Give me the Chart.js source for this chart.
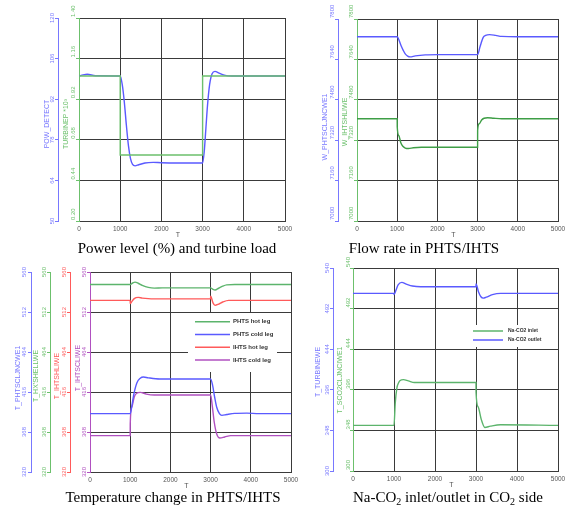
<!DOCTYPE html>
<html>
<head>
<meta charset="utf-8">
<script src="https://cdn.jsdelivr.net/npm/chart.js@4.4.1/dist/chart.umd.min.js"></script>
<style>
  body { margin: 0; background: #fff; width: 570px; height: 507px; position: relative; overflow: hidden; }
  .pane { position: absolute; left: 0; top: 0; width: 570px; height: 507px; }
  .cap { position: absolute; font-family: "Liberation Serif", "Times New Roman", serif; font-size: 15px; line-height: 17px;
         color: #000; white-space: nowrap; transform: translateX(-50%); }
  .cap sub { font-size: 10px; vertical-align: -3px; line-height: 0; }
</style>
</head>
<body>
<div class="pane"><canvas id="c1"></canvas></div>
<div class="pane"><canvas id="c2"></canvas></div>
<div class="pane"><canvas id="c3"></canvas></div>
<div class="pane"><canvas id="c4"></canvas></div>
<div class="cap" style="left:177px;top:240px">Power level (%) and turbine load</div>
<div class="cap" style="left:424px;top:240px">Flow rate in PHTS/IHTS</div>
<div class="cap" style="left:173px;top:489px">Temperature change in PHTS/IHTS</div>
<div class="cap" style="left:448px;top:489px">Na-CO<sub>2</sub> inlet/outlet in CO<sub>2</sub> side</div>
<script>
// ---- données ----
const tTicks = [0, 1000, 2000, 3000, 4000, 5000];

// Power level / turbine load
const powTicks = [50, 64, 78, 92, 106, 120];
const turbTicks = [0.20, 0.44, 0.68, 0.92, 1.16, 1.40];
const powT   = [0, 100, 200, 400, 1000, 1050, 1100, 1150, 1200, 1250, 1300, 1360, 1450, 1600, 1800, 2000, 3000, 3040, 3080, 3120, 3170, 3230, 3300, 3400, 3550, 3700, 5000];
const powVal = [100, 100.4, 100.6, 100.1, 100, 97, 91, 83, 76, 71.5, 69.5, 69, 69.4, 70, 70.2, 70.1, 70, 74, 82, 90, 97, 100.8, 101.6, 101, 100.2, 100, 100];
const turbT   = [0, 1000, 3000, 5000];
const turbVal = [1.057, 0.59, 1.057, 1.057];

// Flow rate
const flowTicks = [7000, 7160, 7320, 7480, 7640, 7800];
const phtsFlowT   = [0, 1000, 1050, 1100, 1150, 1200, 1260, 1320, 1450, 1700, 2000, 3000, 3060, 3140, 3200, 3300, 3450, 3600, 4000, 5000];
const phtsFlowVal = [7730, 7730, 7714, 7693, 7676, 7662, 7653, 7650, 7654, 7658, 7659, 7659, 7690, 7727, 7735, 7738, 7735, 7731, 7730, 7730];
const ihtsFlowT   = [0, 1000, 1001, 1040, 1090, 1140, 1200, 1280, 1400, 1600, 2000, 3000, 3001, 3040, 3100, 3160, 3250, 3400, 3600, 5000];
const ihtsFlowVal = [7405, 7405, 7372, 7338, 7310, 7296, 7289, 7287, 7290, 7292, 7292, 7292, 7360, 7385, 7400, 7407, 7409, 7407, 7405, 7405];

// Temperature PHTS/IHTS
const tempTicks = [320, 368, 416, 464, 512, 560];
const phtsHotT   = [0, 1000, 1060, 1120, 1200, 1300, 1450, 1600, 1800, 3000, 3050, 3110, 3200, 3300, 3400, 3600, 5000];
const phtsHotVal = [545, 545, 546.8, 547.8, 546.5, 544, 541.5, 540.6, 541, 541, 539.5, 538.4, 540.5, 543, 544.6, 545, 545];
const phtsColdT   = [0, 1000, 1040, 1080, 1165, 1250, 1330, 1450, 1740, 3000, 3050, 3100, 3150, 3220, 3280, 3400, 3600, 3900, 4200, 5000];
const phtsColdVal = [390, 390, 398.8, 410.8, 426.8, 432.5, 434, 433, 431.6, 431.6, 424, 410, 398, 390, 388, 389, 390.3, 390.6, 390, 390];
const ihtsHotT   = [0, 1000, 1001, 1040, 1100, 1200, 1300, 1450, 1600, 3000, 3001, 3060, 3110, 3200, 3300, 3450, 5000];
const ihtsHotVal = [526, 526, 522, 524.5, 528, 529.5, 528.7, 528, 527.8, 527.8, 531, 523, 520, 521.5, 524, 526, 526];
const ihtsColdT   = [0, 1000, 1001, 1040, 1100, 1160, 1250, 1400, 1600, 3000, 3040, 3090, 3150, 3230, 3350, 3500, 5000];
const ihtsColdVal = [363.6, 363.6, 378, 398, 410, 414.5, 415.6, 413.5, 412.4, 412.4, 400, 380, 366, 360.8, 362, 363.6, 363.6];

// Na-CO2
const co2Ticks = [300, 348, 396, 444, 492, 540];
const naOutT   = [0, 1000, 1001, 1050, 1100, 1190, 1300, 1450, 1650, 3000, 3001, 3060, 3120, 3175, 3250, 3400, 3600, 5000];
const naOutVal = [510, 510, 508.5, 514, 520, 523, 521, 518.7, 517.8, 517.8, 521, 512, 506, 504.4, 505.5, 508.5, 510, 510];
const naInT   = [0, 1000, 1030, 1070, 1110, 1150, 1230, 1350, 1500, 3000, 3001, 3050, 3130, 3215, 3350, 3600, 5000];
const naInVal = [354, 354, 380, 398, 404, 407, 408, 406.5, 404.6, 404.6, 393, 376, 360.7, 351.5, 353, 354.7, 354];

// ---- estilo ----
const gridCor = '#3a3a3a';
const azul = '#5a5aff', azulEixo = '#7878ff';
const verde = '#5cb46c', verdeEixo = '#6cc06c';
const verm = '#ff5a5a';
const roxo = '#b050c0';

const pts = (xs, ys) => xs.map((x, i) => ({ x: x, y: ys[i] }));

function eixoY(lista, cor, peso, interno, largura) {
  return {
    type: 'linear', position: 'left', weight: peso,
    min: lista[0], max: lista[lista.length - 1],
    afterBuildTicks: s => { s.ticks = lista.map(v => ({ value: v })); },
    afterFit: s => { s.width = largura; },
    ticks: { display: false },
    grid: { drawOnChartArea: interno, color: interno ? gridCor : cor, tickColor: cor, tickLength: 3, lineWidth: 1 },
    border: { display: true, color: cor, width: 1 }
  };
}

function eixoX() {
  return {
    type: 'linear', min: 0, max: 5000,
    afterBuildTicks: s => { s.ticks = tTicks.map(v => ({ value: v })); },
    afterFit: s => { s.height = 14; },
    grid: { color: c => (c.tick && c.tick.value === 0) ? 'rgba(0,0,0,0)' : gridCor, drawTicks: false },
    border: { display: true, color: gridCor },
    ticks: { color: '#555', font: { size: 6.5, family: 'Liberation Sans' }, padding: 4, maxRotation: 0, autoSkip: false,
             callback: v => String(v) }
  };
}

function serie(xs, ys, cor, extra) {
  return Object.assign({
    data: pts(xs, ys), borderColor: cor, borderWidth: 1.4, pointRadius: 0,
    cubicInterpolationMode: 'monotone', fill: false
  }, extra || {});
}

// desenha rótulos girados, títulos dos eixos, "T" e legenda
function textos(eixos, legenda) {
  return {
    id: 'textos',
    afterDraw(chart) {
      const ctx = chart.ctx;
      ctx.save();
      ctx.textBaseline = 'middle';
      eixos.forEach(a => {
        const sc = chart.scales[a.id];
        const x = sc.right;
        ctx.fillStyle = a.cor;
        ctx.font = '6px "Liberation Sans"';
        ctx.textAlign = a.acima ? 'left' : 'center';
        a.lista.forEach(v => {
          ctx.save();
          ctx.translate(x + a.lx, sc.getPixelForValue(v));
          ctx.rotate(-Math.PI / 2);
          ctx.fillText(a.fmt ? a.fmt(v) : String(v), a.acima ? 1 : 0, 0);
          ctx.restore();
        });
        ctx.font = '7px "Liberation Sans"';
        ctx.textAlign = 'center';
        ctx.save();
        ctx.translate(x + a.tx, a.ty);
        ctx.rotate(-Math.PI / 2);
        ctx.fillText(a.titulo, 0, 0);
        ctx.restore();
      });
      const xs = chart.scales.x;
      ctx.fillStyle = '#555';
      ctx.font = '7px "Liberation Sans"';
      ctx.textAlign = 'center';
      ctx.fillText('T', (xs.left + xs.right) / 2 - 4, xs.top + 14);
      if (legenda) {
        const L = legenda;
        ctx.fillStyle = '#fff';
        ctx.fillRect(L.box[0], L.box[1], L.box[2], L.box[3]);
        ctx.font = L.font;
        ctx.textAlign = 'left';
        L.itens.forEach((it, i) => {
          const y = L.y0 + i * L.dy;
          ctx.strokeStyle = it.cor;
          ctx.lineWidth = 1.5;
          ctx.beginPath();
          ctx.moveTo(L.x0, y);
          ctx.lineTo(L.x1, y);
          ctx.stroke();
          ctx.fillStyle = '#333';
          ctx.fillText(it.label, L.tx, y);
        });
      }
      ctx.restore();
    }
  };
}

function grafico(id, datasets, scales, padding, plugin) {
  return new Chart(document.getElementById(id), {
    type: 'line',
    data: { datasets: datasets },
    options: {
      responsive: true,
      maintainAspectRatio: false,
      animation: false,
      layout: { autoPadding: false, padding: padding },
      plugins: { legend: { display: false }, tooltip: { enabled: false } },
      scales: scales
    },
    plugins: [plugin]
  });
}

// Gráfico 1 - potência e carga da turbina
grafico('c1',
  [serie(turbT, turbVal, verdeEixo, { yAxisID: 'yG', stepped: true, cubicInterpolationMode: 'default' }),
   serie(powT, powVal, azul, { yAxisID: 'yB' })],
  { x: eixoX(), yG: eixoY(turbTicks, verdeEixo, 0, true, 21), yB: eixoY(powTicks, azulEixo, 1, false, 20) },
  { left: 38, top: 18, right: 285, bottom: 507 - 221 - 14 },
  textos([
    { id: 'yB', lista: powTicks, cor: azulEixo, lx: -6, tx: -11, ty: 124, titulo: 'POW_DETECT' },
    { id: 'yG', lista: turbTicks, cor: verdeEixo, lx: -6, tx: -13, ty: 124, titulo: 'TURBINEP *10³', acima: true, fmt: v => v.toFixed(2) }
  ])
);

// Gráfico 2 - vazão
grafico('c2',
  [serie(phtsFlowT, phtsFlowVal, azul, { yAxisID: 'yB' }),
   serie(ihtsFlowT, ihtsFlowVal, '#3e9e46', { yAxisID: 'yG' })],
  { x: eixoX(), yG: eixoY(flowTicks, verdeEixo, 0, true, 19), yB: eixoY(flowTicks, azulEixo, 1, false, 20) },
  { left: 318, top: 19, right: 12, bottom: 507 - 221 - 14 },
  textos([
    { id: 'yB', lista: flowTicks, cor: azulEixo, lx: -6, tx: -13, ty: 127, titulo: 'W_PHTSCLJNCWE1', acima: true },
    { id: 'yG', lista: flowTicks, cor: verdeEixo, lx: -6, tx: -12, ty: 122, titulo: 'W_IHTSHLIWE', acima: true }
  ])
);

// Gráfico 3 - temperaturas PHTS/IHTS
grafico('c3',
  [serie(phtsHotT, phtsHotVal, verde, { yAxisID: 'yG' }),
   serie(phtsColdT, phtsColdVal, azul, { yAxisID: 'yB' }),
   serie(ihtsHotT, ihtsHotVal, verm, { yAxisID: 'yR' }),
   serie(ihtsColdT, ihtsColdVal, roxo, { yAxisID: 'yP' })],
  { x: eixoX(),
    yP: eixoY(tempTicks, roxo, 0, true, 20),
    yR: eixoY(tempTicks, verm, 1, false, 20),
    yG: eixoY(tempTicks, verdeEixo, 2, false, 19),
    yB: eixoY(tempTicks, azulEixo, 3, false, 20) },
  { left: 11, top: 272, right: 570 - 291, bottom: 507 - 472 - 14 },
  textos([
    { id: 'yB', lista: tempTicks, cor: azulEixo, lx: -7, tx: -13, ty: 378, titulo: 'T_PHTSCLJNCWE1' },
    { id: 'yG', lista: tempTicks, cor: verdeEixo, lx: -6, tx: -14, ty: 376, titulo: "T_HX'SHELLWE" },
    { id: 'yR', lista: tempTicks, cor: verm, lx: -6, tx: -13, ty: 376, titulo: 'T_IHTSHLIWE' },
    { id: 'yP', lista: tempTicks, cor: roxo, lx: -6, tx: -12, ty: 368, titulo: 'T_IHTSCLIWE' }
  ], {
    box: [188, 313, 89, 59], x0: 195, x1: 230, tx: 233, y0: 321.7, dy: 12.8, font: 'bold 6px "Liberation Sans"',
    itens: [{ label: 'PHTS hot leg', cor: verde }, { label: 'PHTS cold leg', cor: azul },
            { label: 'IHTS hot leg', cor: verm }, { label: 'IHTS cold leg', cor: roxo }]
  })
);

// Gráfico 4 - Na-CO2
grafico('c4',
  [serie(naInT, naInVal, verde, { yAxisID: 'yG' }),
   serie(naOutT, naOutVal, azul, { yAxisID: 'yB' })],
  { x: eixoX(), yG: eixoY(co2Ticks, verdeEixo, 0, true, 20), yB: eixoY(co2Ticks, azulEixo, 1, false, 20) },
  { left: 313, top: 268, right: 12, bottom: 507 - 471 - 14 },
  textos([
    { id: 'yB', lista: co2Ticks, cor: azulEixo, lx: -6, tx: -15, ty: 372, titulo: 'T_TURBINEWE' },
    { id: 'yG', lista: co2Ticks, cor: verdeEixo, lx: -5, tx: -13, ty: 380, titulo: 'T_SCO2CLJNCIWE1', acima: true }
  ], {
    box: [465, 325, 88, 22], x0: 473, x1: 503, tx: 508, y0: 331, dy: 9, font: 'bold 5px "Liberation Sans"',
    itens: [{ label: 'Na-CO2 inlet', cor: verde }, { label: 'Na-CO2 outlet', cor: azul }]
  })
);
</script>
</body>
</html>
